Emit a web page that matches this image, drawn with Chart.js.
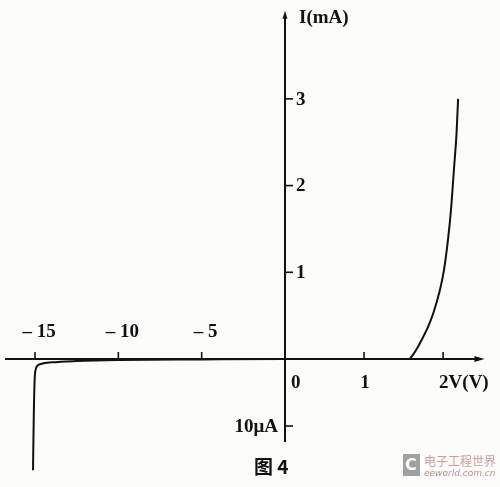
<!DOCTYPE html>
<html>
<head>
<meta charset="utf-8">
<script src="https://cdn.jsdelivr.net/npm/chart.js@4.4.0/dist/chart.umd.min.js"></script>
<style>
  html, body { margin: 0; padding: 0; background: #fcfcfa; }
  #wrap { width: 500px; height: 487px; }
</style>
</head>
<body>
<div id="wrap"><canvas id="iv" width="500" height="487"></canvas></div>
<script>
// diode I-V curve, voltage in V, current in mA
const voltage = [-15.12, -15.07, -15.02, -14.95, -14.85, -14.6, -14.0, -12.5, -10, -5, 0, 1.0, 1.57, 1.62, 1.67, 1.74, 1.81, 1.88, 1.95, 2.01, 2.06, 2.10, 2.14, 2.17, 2.19];
const current = [-0.0166, -0.008, -0.003, -0.0015, -0.001, -0.0007, -0.0005, -0.0003, -0.00015, -0.00006, 0, 0, 0, 0.05, 0.12, 0.24, 0.37, 0.54, 0.76, 1.02, 1.36, 1.72, 2.22, 2.6, 3.0];

const xTicks = [-15, -10, -5, 1, 2];
const xTickLabels = ['– 15', '– 10', '– 5', '1', '2V(V)'];
const yTicks = [1, 2, 3, -0.01];
const yTickLabels = ['1', '2', '3', '10μA'];

// piecewise scales: the negative and positive halves use different units
const xKnots = [[-17.1, 0], [0, 0.57], [2.72, 1]];
const yKnots = [[-0.0191, 0], [0, 0.2628], [4.14, 1]];

function makeScale(id, knots) {
  class Piecewise extends Chart.LinearScale {
    frac(v) {
      let i = 0;
      while (i < knots.length - 2 && v > knots[i + 1][0]) i++;
      const [v0, f0] = knots[i], [v1, f1] = knots[i + 1];
      return f0 + (v - v0) / (v1 - v0) * (f1 - f0);
    }
    getPixelForValue(v) {
      const f = this.frac(v);
      return this.isHorizontal() ? this.left + f * this.width : this.bottom - f * this.height;
    }
    getValueForPixel(p) {
      const f = this.isHorizontal() ? (p - this.left) / this.width : (this.bottom - p) / this.height;
      let i = 0;
      while (i < knots.length - 2 && f > knots[i + 1][1]) i++;
      const [v0, f0] = knots[i], [v1, f1] = knots[i + 1];
      return v0 + (f - f0) / (f1 - f0) * (v1 - v0);
    }
  }
  Piecewise.id = id;
  Piecewise.defaults = Chart.LinearScale.defaults;
  return Piecewise;
}
Chart.register(makeScale('pwx', xKnots), makeScale('pwy', yKnots));

const font = 'bold 19px "Liberation Serif", "DejaVu Serif", serif';

const axesPlugin = {
  id: 'axesPlugin',
  beforeDatasetsDraw(chart) {
    const { ctx, scales: { x, y } } = chart;
    const x0 = x.getPixelForValue(0), y0 = y.getPixelForValue(0);
    ctx.save();
    ctx.strokeStyle = '#111';
    ctx.fillStyle = '#111';
    ctx.lineWidth = 2;
    // horizontal axis
    const xEnd = x.getPixelForValue(2.46);
    ctx.beginPath();
    ctx.moveTo(x.getPixelForValue(-16.8), y0);
    ctx.lineTo(xEnd, y0);
    ctx.stroke();
    ctx.beginPath();
    ctx.moveTo(xEnd + 5, y0);
    ctx.lineTo(xEnd - 5, y0 - 3);
    ctx.lineTo(xEnd - 5, y0 + 3);
    ctx.closePath();
    ctx.fill();
    // vertical axis
    const yTop = y.getPixelForValue(3.97);
    ctx.beginPath();
    ctx.moveTo(x0, y.getPixelForValue(-0.0124));
    ctx.lineTo(x0, yTop);
    ctx.stroke();
    ctx.beginPath();
    ctx.moveTo(x0, yTop - 4);
    ctx.lineTo(x0 - 2.5, yTop + 4);
    ctx.lineTo(x0 + 2.5, yTop + 4);
    ctx.closePath();
    ctx.fill();

    ctx.font = font;
    ctx.textBaseline = 'middle';
    ctx.lineWidth = 1.6;
    xTicks.forEach((v, i) => {
      const px = x.getPixelForValue(v);
      ctx.beginPath();
      ctx.moveTo(px, y0);
      ctx.lineTo(px, y0 - 7);
      ctx.stroke();
      if (v < 0) {
        ctx.textAlign = 'center';
        ctx.fillText(xTickLabels[i], px + 4, y0 - 27);
      } else if (i === xTicks.length - 1) {
        ctx.textAlign = 'left';
        ctx.fillText(xTickLabels[i], px - 4, y0 + 24);
      } else {
        ctx.textAlign = 'center';
        ctx.fillText(xTickLabels[i], px + 1, y0 + 24);
      }
    });
    ctx.textAlign = 'left';
    ctx.fillText('0', x0 + 6, y0 + 24);

    yTicks.forEach((v, i) => {
      const py = y.getPixelForValue(v);
      ctx.beginPath();
      ctx.moveTo(x0, py);
      ctx.lineTo(x0 + 8, py);
      ctx.stroke();
      if (v > 0) {
        ctx.textAlign = 'left';
        ctx.fillText(yTickLabels[i], x0 + 11, py + 1);
      } else {
        ctx.textAlign = 'right';
        ctx.fillText(yTickLabels[i], x0 - 7, py + 1);
      }
    });
    ctx.textAlign = 'left';
    ctx.fillText('I(mA)', x0 + 14, yTop + 3);

    // caption
    ctx.font = 'bold 19px "Noto Sans CJK SC", "Liberation Serif", serif';
    ctx.fillText('图 4', 254, 467);

    // faint watermark
    ctx.fillStyle = '#a0a0a0';
    ctx.fillRect(403, 454, 17, 22);
    ctx.fillStyle = '#fff';
    ctx.font = 'bold 16px "DejaVu Sans", sans-serif';
    ctx.fillText('C', 405, 466);
    ctx.fillStyle = '#cf9a9a';
    ctx.font = '12px "Noto Sans CJK SC", sans-serif';
    ctx.fillText('电子工程世界', 424, 461);
    ctx.fillStyle = '#bb8c8c';
    ctx.font = 'italic 9px "DejaVu Sans", sans-serif';
    ctx.fillText('eeworld.com.cn', 424, 474);
    ctx.restore();
  }
};

new Chart(document.getElementById('iv'), {
  type: 'line',
  data: {
    datasets: [{
      data: voltage.map((v, i) => ({ x: v, y: current[i] })),
      borderColor: '#111',
      borderWidth: 2,
      pointRadius: 0,
      cubicInterpolationMode: 'monotone',
      fill: false
    }]
  },
  options: {
    responsive: false,
    animation: false,
    layout: { padding: 0 },
    plugins: { legend: { display: false }, tooltip: { enabled: false } },
    scales: {
      x: { type: 'pwx', min: xKnots[0][0], max: xKnots[2][0], display: false },
      y: { type: 'pwy', min: yKnots[0][0], max: yKnots[2][0], display: false }
    }
  },
  plugins: [axesPlugin]
});
</script>
</body>
</html>
